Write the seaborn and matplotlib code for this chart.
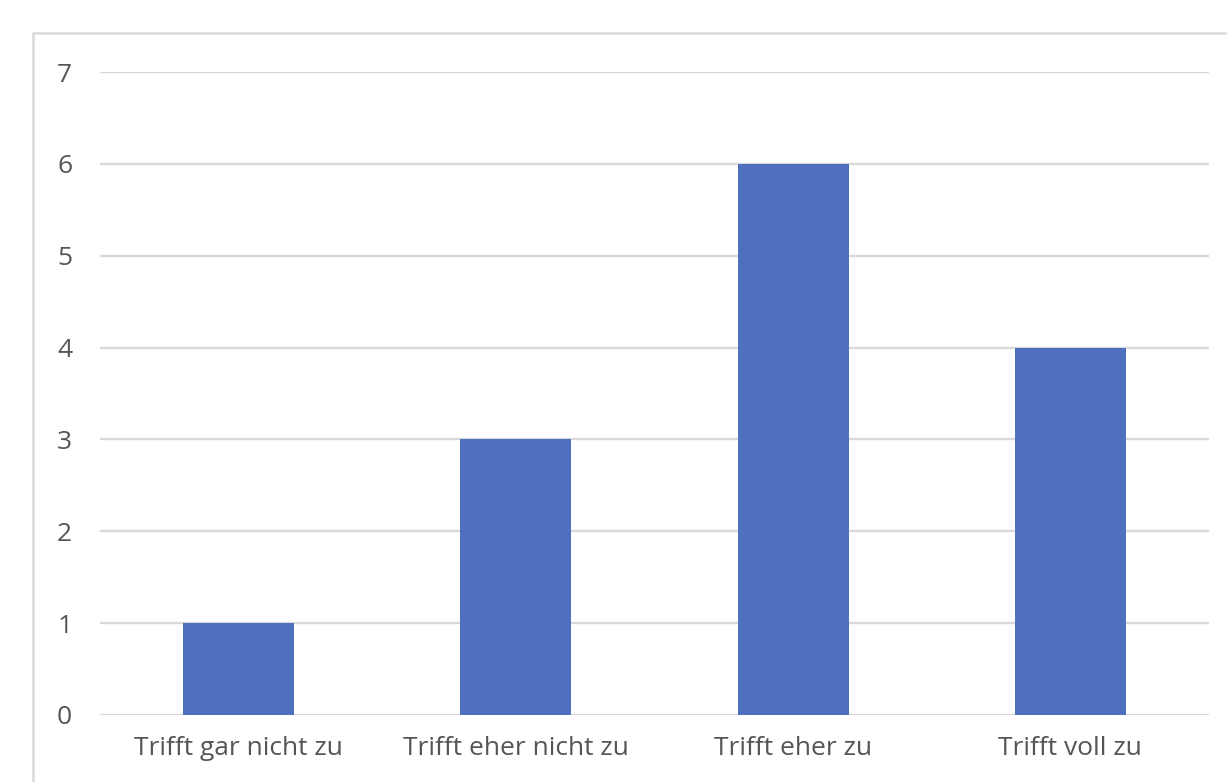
import matplotlib
matplotlib.use("Agg")
import matplotlib.pyplot as plt
import seaborn as sns
import pandas as pd
from matplotlib.patches import Rectangle

categories = ["Trifft gar nicht zu", "Trifft eher nicht zu", "Trifft eher zu", "Trifft voll zu"]
counts = [1, 3, 6, 4]
yticks = [0, 1, 2, 3, 4, 5, 6, 7]

sns.set_theme(style="white")
plt.rcParams["font.family"] = ["Open Sans", "DejaVu Sans"]

W, H = 1227, 782
fig = plt.figure(figsize=(W / 100, H / 100), dpi=100)
fig.patch.set_facecolor("white")

# outer chart frame (continues past the right and bottom edges)
fig.patches.append(Rectangle((33 / W, -0.2), 1.5, 1 - 33 / H + 0.2,
                             transform=fig.transFigure, fill=False,
                             edgecolor="#d9d9d9", linewidth=1.8, zorder=0))

ax = fig.add_axes([100 / W, 1 - 715 / H, (1209 - 100) / W, (715 - 72) / H])
df = pd.DataFrame({"Kategorie": categories, "Anzahl": counts})
sns.barplot(data=df, x="Kategorie", y="Anzahl", color="#4e70be",
            width=0.4, saturation=1, linewidth=0, edgecolor="none",
            ax=ax, zorder=3)

ax.set_xlim(-0.5, len(categories) - 0.5)
ax.set_ylim(0, 7)
ax.set_yticks(yticks)
ax.yaxis.grid(True, color="#d9d9d9", linewidth=1.7)
ax.set_axisbelow(True)
for s in ax.spines.values():
    s.set_visible(False)
ax.axhline(0, color="#d9d9d9", linewidth=1.8, zorder=2)
ax.set_xlabel("")
ax.set_ylabel("")
ax.tick_params(axis="y", length=0, pad=20, labelsize=19, labelcolor="#555555")
ax.tick_params(axis="x", length=0, pad=15, labelsize=19, labelcolor="#555555")
ax.patch.set_alpha(0)

fig.savefig("out.png", dpi=100, facecolor="white")
